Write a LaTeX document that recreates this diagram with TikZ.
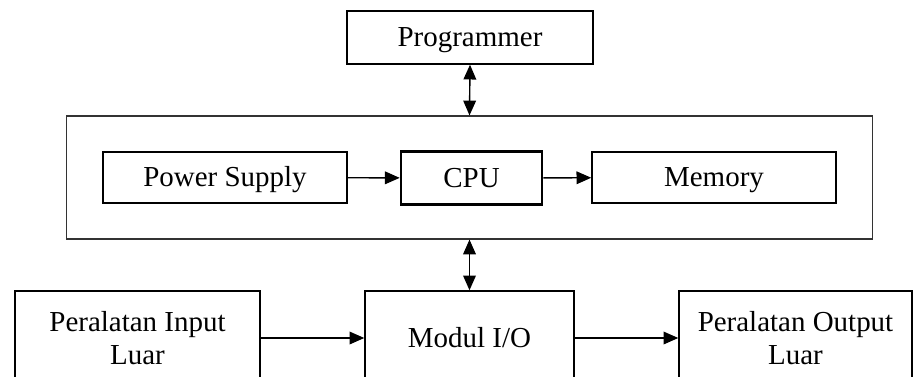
\documentclass[tikz,border=0pt]{standalone}
\usepackage{fontspec}
\setmainfont{Liberation Serif}
\usetikzlibrary{arrows.meta}
\tikzset{
  blok/.style={draw,line width=1pt,align=center,inner sep=0pt,
    font=\fontsize{20.6pt}{23.5pt}\selectfont},
  satu/.style={text height=14.5pt,text depth=1pt},
  panah/.style={line width=1pt,-{Triangle[length=10.5pt,width=9pt]}},
  dua/.style={line width=1pt,{Triangle[length=10.5pt,width=9pt]}-{Triangle[length=10.5pt,width=9pt]}}
}
\begin{document}
\begin{tikzpicture}[x=0.025cm,y=-0.025cm]
        % region
        \useasboundingbox (0,0) rectangle (915,376);
        \clip (0,0) rectangle (915,376);
        % top
        \node[blok,satu,minimum width=6.15cm,minimum height=1.325cm] (prog) at (470,37.5) {Programmer};
        % plc
        \node[draw,line width=0.8pt,draw=black!80,minimum width=20.125cm,minimum height=3.075cm] (plc) at (469.5,177.5) {};
        \node[blok,satu,minimum width=6.1cm,minimum height=1.275cm] (psu) at (225,177.5) {Power Supply};
        \node[blok,satu,line width=1.8pt,minimum width=3.525cm,minimum height=1.325cm] (cpu) at (471.5,178) {CPU};
        \node[blok,satu,minimum width=6.1cm,minimum height=1.275cm] (mem) at (714,177.5) {Memory};
        % bottom
        \node[blok,minimum width=6.125cm,minimum height=2.35cm] (in) at (137.5,338) {Peralatan Input\\Luar};
        \node[blok,satu,minimum width=5.225cm,minimum height=2.35cm] (io) at (469.5,338) {Modul I/O};
        \node[blok,minimum width=5.825cm,minimum height=2.35cm] (out) at (795.5,338) {Peralatan Output\\Luar};
        % arrows
        \draw[dua] (prog.south) -- (plc.north);
        \draw[dua] (plc.south) -- (io.north);
        \draw[panah] (psu) -- (cpu);
        \draw[panah] (cpu) -- (mem);
        \draw[panah] (in) -- (io);
        \draw[panah] (io) -- (out);
    \end{tikzpicture}
\end{document}
